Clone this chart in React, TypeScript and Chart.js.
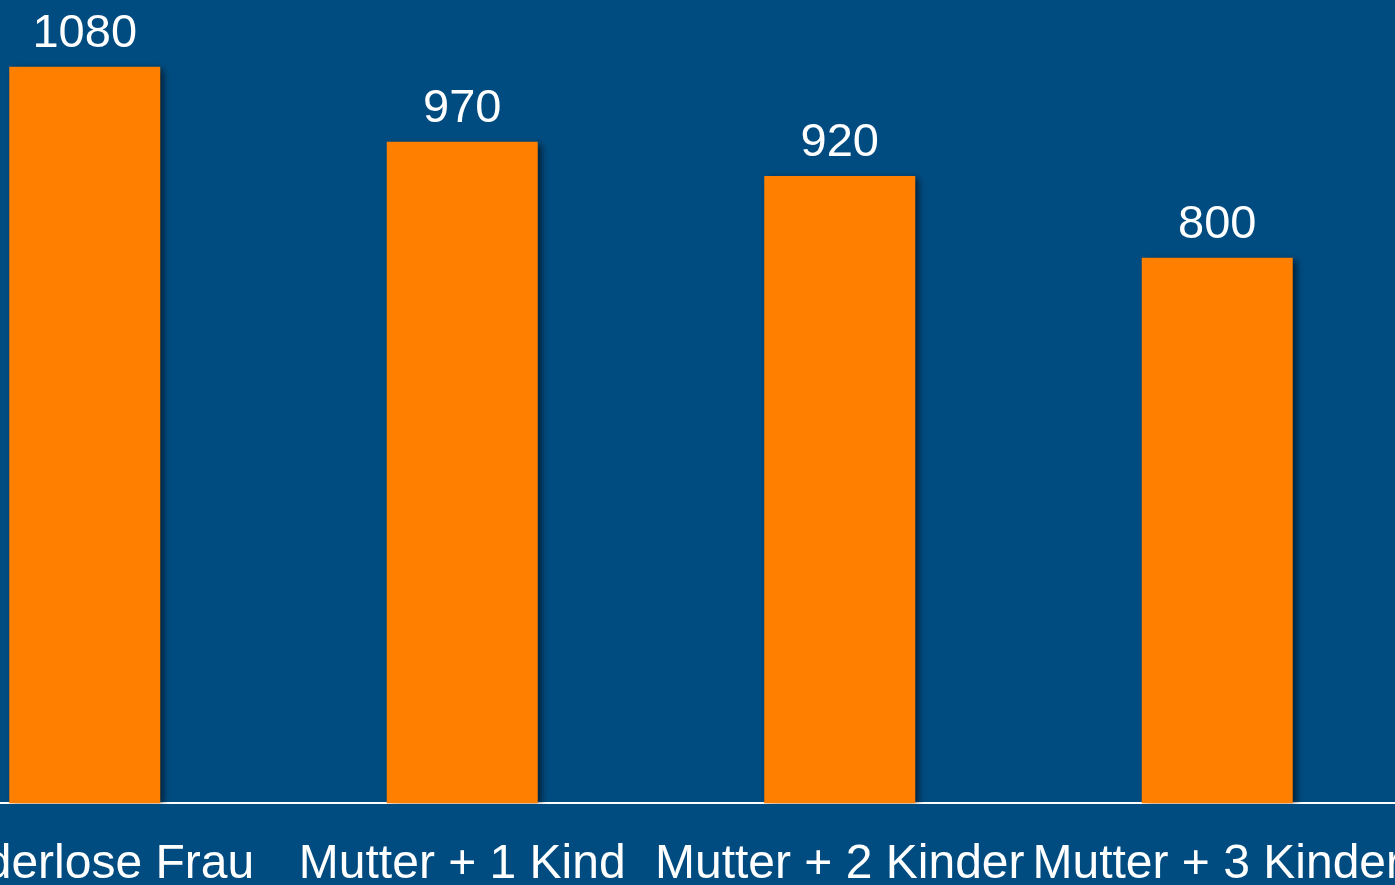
import React, { useEffect, useRef } from "react";
import { Chart, registerables } from "chart.js";

Chart.register(...registerables);

const categories: string[] = [
  "Kinderlose Frau",
  "Mutter + 1 Kind",
  "Mutter + 2 Kinder",
  "Mutter + 3 Kinder",
];
const values: number[] = [1080, 970, 920, 800];

const BG = "#004C80";
const BAR = "#FF8000";
const FONT = "'Liberation Sans', Arial, sans-serif";
const LABEL_SIZE = 48;
const TICK_PAD = 33;

const shadowAndLabels = {
  id: "shadowAndLabels",
  beforeDatasetsDraw(chart: any) {
    const ctx = chart.ctx;
    ctx.save();
    ctx.shadowColor = "rgba(0,0,0,0.6)";
    ctx.shadowOffsetX = 4;
    ctx.shadowOffsetY = 2;
    ctx.shadowBlur = 7;
  },
  afterDatasetsDraw(chart: any) {
    const ctx = chart.ctx;
    ctx.restore();
    ctx.save();
    ctx.fillStyle = "#FFFFFF";
    ctx.font = `47px ${FONT}`;
    ctx.textAlign = "center";
    ctx.textBaseline = "alphabetic";
    const meta = chart.getDatasetMeta(0);
    meta.data.forEach((bar: any, i: number) => {
      ctx.fillText(String(chart.data.datasets[0].data[i]), bar.x, bar.y - 20);
    });
    ctx.restore();
  },
};

export default function App() {
  const ref = useRef<HTMLCanvasElement>(null);
  useEffect(() => {
    if (!ref.current) return;
    const chart = new Chart(ref.current, {
      type: "bar",
      data: {
        labels: categories,
        datasets: [
          {
            data: values,
            backgroundColor: BAR,
            borderWidth: 0,
            barPercentage: 0.4,
            categoryPercentage: 1,
          },
        ],
      },
      options: {
        responsive: false,
        animation: false,
        devicePixelRatio: 1,
        layout: { padding: 0 },
        plugins: {
          legend: { display: false },
          tooltip: { enabled: false },
        },
        scales: {
          x: {
            grid: { display: false, drawTicks: false },
            border: { display: true, color: "#FFFFFF", width: 2 },
            ticks: {
              color: "#FFFFFF",
              font: { family: FONT, size: LABEL_SIZE },
              padding: TICK_PAD,
              autoSkip: false,
              maxRotation: 0,
              minRotation: 0,
            },
            afterFit(scale: any) {
              scale.height = TICK_PAD + LABEL_SIZE * 1.2;
              scale.paddingLeft = 0;
              scale.paddingRight = 0;
            },
          },
          y: {
            display: false,
            min: 0,
            max: 1178,
          },
        },
      },
      plugins: [shadowAndLabels],
    });
    return () => chart.destroy();
  }, []);
  return (
    <div
      style={{
        position: "fixed",
        left: 0,
        top: 0,
        width: 1395,
        height: 885,
        overflow: "hidden",
        background: BG,
      }}
    >
      <canvas
        ref={ref}
        width={1510}
        height={894}
        style={{ position: "absolute", left: -104, top: 0 }}
      />
    </div>
  );
}
